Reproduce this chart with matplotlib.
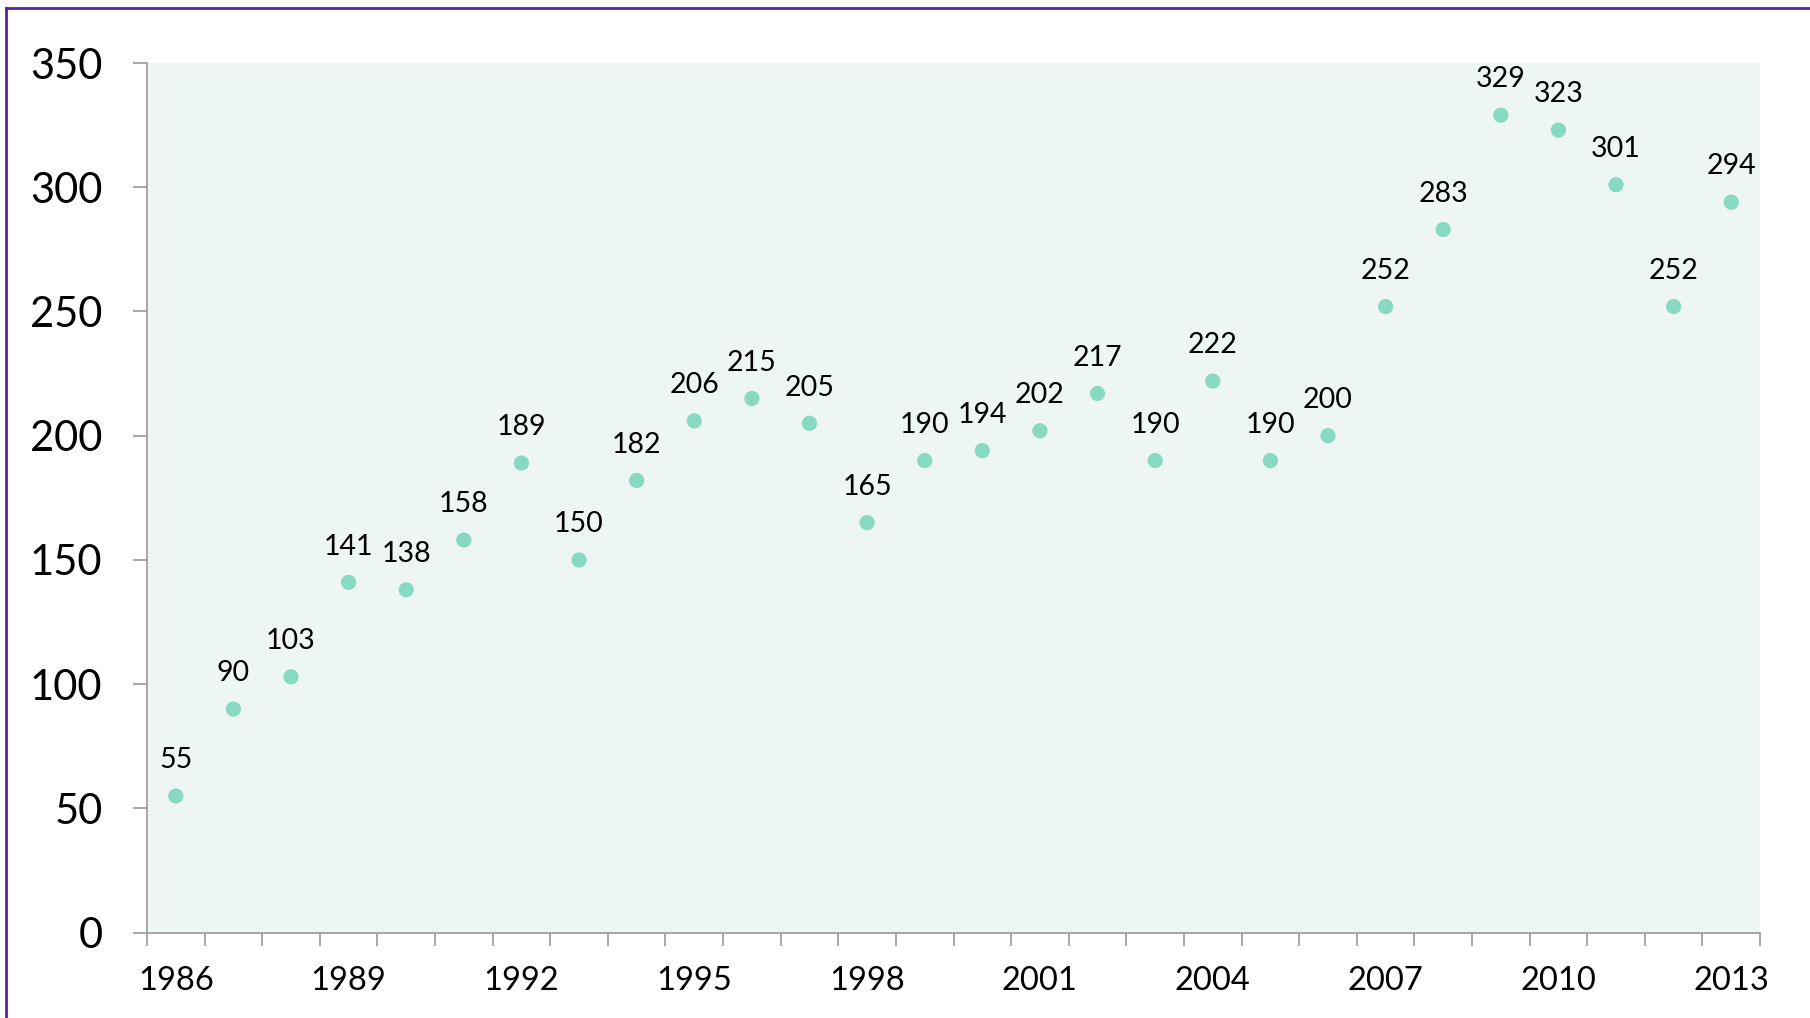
import matplotlib
matplotlib.use("Agg")
import matplotlib.pyplot as plt
from matplotlib.lines import Line2D

years = list(range(1986, 2014))
values = [55, 90, 103, 141, 138, 158, 189, 150, 182, 206, 215, 205, 165, 190,
          194, 202, 217, 190, 222, 190, 200, 252, 283, 329, 323, 301, 252, 294]
yticks = [0, 50, 100, 150, 200, 250, 300, 350]

plt.rcParams["font.family"] = ["Lato", "DejaVu Sans"]

fig = plt.figure(figsize=(18.10, 10.18), dpi=100)
ax = fig.add_axes([0.0812, 0.0838, 0.8912, 0.8543])
ax.set_facecolor("#edf6f2")

xs = list(range(len(years)))
ax.scatter(xs, values, s=120, color="#88d9c1", edgecolors="none", zorder=3)
for x, v in zip(xs, values):
    ax.annotate(str(v), (x, v), xytext=(0, 20), textcoords="offset points",
                ha="center", va="baseline", fontsize=20.5, color="#000000")

ax.set_xlim(-0.5, len(years) - 0.5)
ax.set_ylim(0, 350)
ax.set_yticks(yticks)
ax.set_yticklabels([str(t) for t in yticks], fontsize=30)

ax.set_xticks(xs[::3])
ax.set_xticklabels([str(y) for y in years[::3]], fontsize=23.5)
ax.set_xticks([i - 0.5 for i in range(len(years) + 1)], minor=True)
ax.tick_params(axis="x", which="major", length=0, pad=24)
ax.tick_params(axis="x", which="minor", length=9, width=1.3, color="#a0a0a0")
ax.tick_params(axis="y", length=10, width=1.3, color="#a0a0a0", pad=22)

for side in ["top", "right"]:
    ax.spines[side].set_visible(False)
for side in ["left", "bottom"]:
    ax.spines[side].set_color("#a0a0a0")
    ax.spines[side].set_linewidth(1.3)

# purple frame (only top and left edges visible)
fig.add_artist(Line2D([0.0031, 1.0], [0.9925, 0.9925], color="#5b1fa8",
                      linewidth=2, transform=fig.transFigure))
fig.add_artist(Line2D([0.0031, 0.0031], [0.0, 0.9925], color="#5b1fa8",
                      linewidth=2, transform=fig.transFigure))

fig.savefig("out.png", dpi=100)
